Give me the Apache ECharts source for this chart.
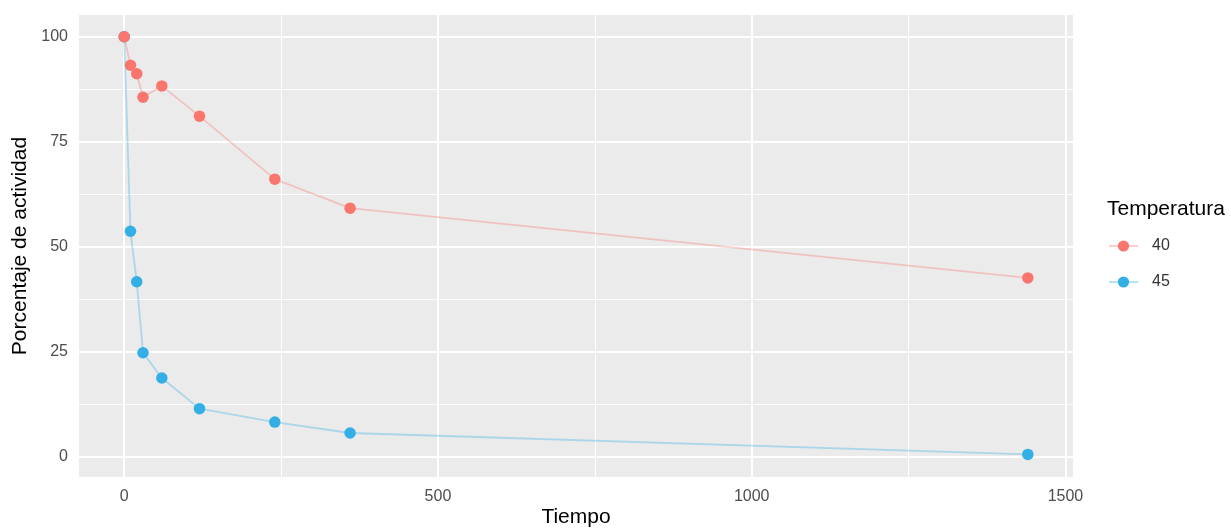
<!DOCTYPE html>
<html>
<head>
<meta charset="utf-8">
<script src="https://cdn.jsdelivr.net/npm/echarts@6/dist/echarts.min.js"></script>
<style>html,body{margin:0;padding:0;background:#fff}#c{width:1231px;height:529px}</style>
</head>
<body>
<div id="c"></div>
<script>
const tiempo = [0, 10, 20, 30, 60, 120, 240, 360, 1440];
const temp40 = [100, 93.2, 91.2, 85.6, 88.3, 81.1, 66.1, 59.2, 42.6];
const temp45 = [100, 53.7, 41.7, 24.8, 18.8, 11.5, 8.3, 5.7, 0.6];
const xTicks = [0, 500, 1000, 1500];
const yTicks = [0, 25, 50, 75, 100];
const xMinor = [250, 750, 1250];
const yMinor = [12.5, 37.5, 62.5, 87.5];
const seriesNames = ['40', '45'];

const FONT = 'Liberation Sans, Arial, sans-serif';
const red = '#F8766D', blue = '#33AFE6';

function pairs(xs, ys) { return xs.map((x, i) => [x, ys[i]]); }

const gridLines = [];
xTicks.forEach(v => gridLines.push({ xAxis: v, lineStyle: { color: '#fff', width: 2, type: 'solid' } }));
yTicks.forEach(v => gridLines.push({ yAxis: v, lineStyle: { color: '#fff', width: 2, type: 'solid' } }));
xMinor.forEach(v => gridLines.push({ xAxis: v, lineStyle: { color: '#fff', width: 1, type: 'solid' } }));
yMinor.forEach(v => gridLines.push({ yAxis: v, lineStyle: { color: '#fff', width: 1, type: 'solid' } }));

const chart = echarts.init(document.getElementById('c'), null, { renderer: 'canvas' });
chart.setOption({
  animation: false,
  backgroundColor: '#fff',
  textStyle: { fontFamily: FONT },
  title: {
    text: 'Temperatura', left: 1102, top: 194,
    textStyle: { fontFamily: FONT, fontSize: 21, fontWeight: 'normal', color: '#000' }
  },
  legend: {
    orient: 'vertical', left: 1103, top: 233,
    itemWidth: 29, itemHeight: 14, itemGap: 20,
    data: seriesNames,
    textStyle: { fontFamily: FONT, fontSize: 16, color: '#333', padding: [0, 0, 0, 9] }
  },
  grid: {
    left: 79, right: 158, top: 15, bottom: 52,
    outerBoundsMode: 'none', containLabel: false,
    show: true, backgroundColor: '#EBEBEB', borderWidth: 0
  },
  xAxis: {
    type: 'value', min: -72, max: 1512,
    name: 'Tiempo', nameLocation: 'middle', nameGap: 30, nameMoveOverlap: false,
    nameTextStyle: { fontFamily: FONT, fontSize: 21, color: '#000' },
    axisLine: { show: false },
    axisTick: { show: true, length: 4, lineStyle: { color: '#333', width: 1 }, customValues: xTicks },
    axisLabel: { customValues: xTicks, formatter: v => String(v), margin: 12, fontFamily: FONT, fontSize: 16, color: '#4D4D4D' },
    splitLine: { show: false }
  },
  yAxis: {
    type: 'value', min: -4.77, max: 105.17,
    name: 'Porcentaje de actividad', nameLocation: 'middle', nameGap: 48, nameMoveOverlap: false,
    nameTextStyle: { fontFamily: FONT, fontSize: 21, color: '#000' },
    axisLine: { show: false },
    axisTick: { show: true, length: 4, lineStyle: { color: '#333', width: 1 }, customValues: yTicks },
    axisLabel: { customValues: yTicks, formatter: v => String(v), margin: 11, fontFamily: FONT, fontSize: 16, color: '#4D4D4D' },
    splitLine: { show: false }
  },
  series: [
    {
      name: 'grid', type: 'line', data: [], z: 1, silent: true,
      markLine: { silent: true, symbol: 'none', z: 1, label: { show: false }, animation: false, data: gridLines }
    },
    {
      name: seriesNames[0], type: 'line', data: pairs(tiempo, temp40), z: 4,
      symbol: 'circle', symbolSize: 11.5, showSymbol: true,
      itemStyle: { color: red },
      lineStyle: { color: red, width: 1.8, opacity: 0.35 }
    },
    {
      name: seriesNames[1], type: 'line', data: pairs(tiempo, temp45), z: 3,
      symbol: 'circle', symbolSize: 11.5, showSymbol: true,
      itemStyle: { color: blue },
      lineStyle: { color: blue, width: 1.8, opacity: 0.35 }
    }
  ]
});
</script>
</body>
</html>
